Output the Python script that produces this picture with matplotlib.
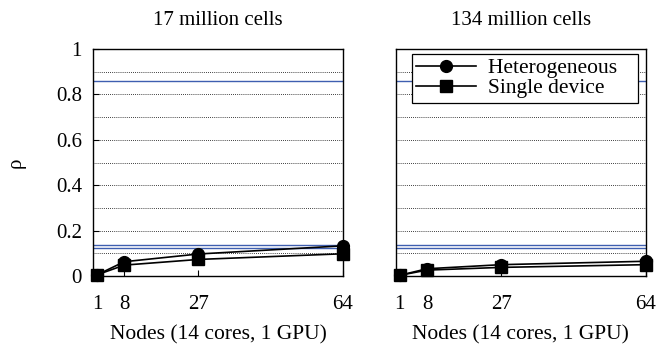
import matplotlib
matplotlib.use('Agg')
import matplotlib.pyplot as plt
import matplotlib.ticker as ticker

plt.rcParams['font.family'] = ['Liberation Serif', 'DejaVu Serif']

nodes = [1, 8, 27, 64]
titles = ["17 million cells", "134 million cells"]

# rho values
hetero = [
    [0.005, 0.063, 0.097, 0.133],
    [0.003, 0.032, 0.050, 0.065],
]
single = [
    [0.005, 0.048, 0.073, 0.098],
    [0.003, 0.026, 0.038, 0.050],
]
# horizontal blue reference lines
ref_lines = [0.859, 0.135, 0.122]

BLUE = '#3f5fb0'
FS = 15


def fmt_y(v, _):
    v = round(v, 2)
    if v == 0:
        return '0'
    if v == 1:
        return '1'
    return f'{v:.1f}'


fig = plt.figure(figsize=(6.57, 3.53), dpi=100)
ax_left = fig.add_axes([0.1416, 0.2181, 0.3805, 0.6431])
ax_right = fig.add_axes([0.6023, 0.2181, 0.3810, 0.6431])

for i, ax in enumerate([ax_left, ax_right]):
    for r in ref_lines:
        ax.axhline(r, color=BLUE, linewidth=1.0, zorder=2)
    ax.plot(nodes, hetero[i], 'o-', color='black', linewidth=1.2,
            markersize=8.5, label='Heterogeneous   ', zorder=4, clip_on=False)
    ax.plot(nodes, single[i], 's-', color='black', linewidth=1.2,
            markersize=8, label='Single device', zorder=4, clip_on=False)

    ax.set_xlim(0, 64)
    ax.set_ylim(0, 1)
    ax.set_xticks(nodes)
    ax.yaxis.set_major_locator(ticker.MultipleLocator(0.2))
    ax.yaxis.set_minor_locator(ticker.MultipleLocator(0.1))
    ax.yaxis.set_major_formatter(ticker.FuncFormatter(fmt_y))
    ax.grid(True, which='both', axis='y', linestyle=(0, (1, 1.5)),
            color='black', linewidth=0.6)
    ax.tick_params(direction='in', length=4, labelsize=FS, width=0.8)
    ax.tick_params(axis='x', pad=14)
    ax.tick_params(axis='y', pad=8)
    ax.tick_params(which='minor', length=0)
    for s in ax.spines.values():
        s.set_linewidth(1.0)
    ax.set_title(titles[i], fontsize=FS, pad=17)
    ax.set_xlabel('Nodes (14 cores, 1 GPU)', fontsize=15.5, labelpad=8)

ax_left.set_ylabel('ρ', fontsize=FS)
ax_left.yaxis.set_label_coords(-0.27, 0.5)
ax_right.tick_params(axis='y', left=False, labelleft=False)

leg = ax_right.legend(loc='upper right', fontsize=15.5, frameon=True,
                      fancybox=False, edgecolor='black', framealpha=1,
                      handlelength=2.75, handletextpad=0.6, borderpad=0.2,
                      labelspacing=0.0, borderaxespad=0,
                      bbox_to_anchor=(0.968, 0.978))
leg.get_frame().set_linewidth(0.9)

plt.savefig('out.png', dpi=100)
plt.close()
